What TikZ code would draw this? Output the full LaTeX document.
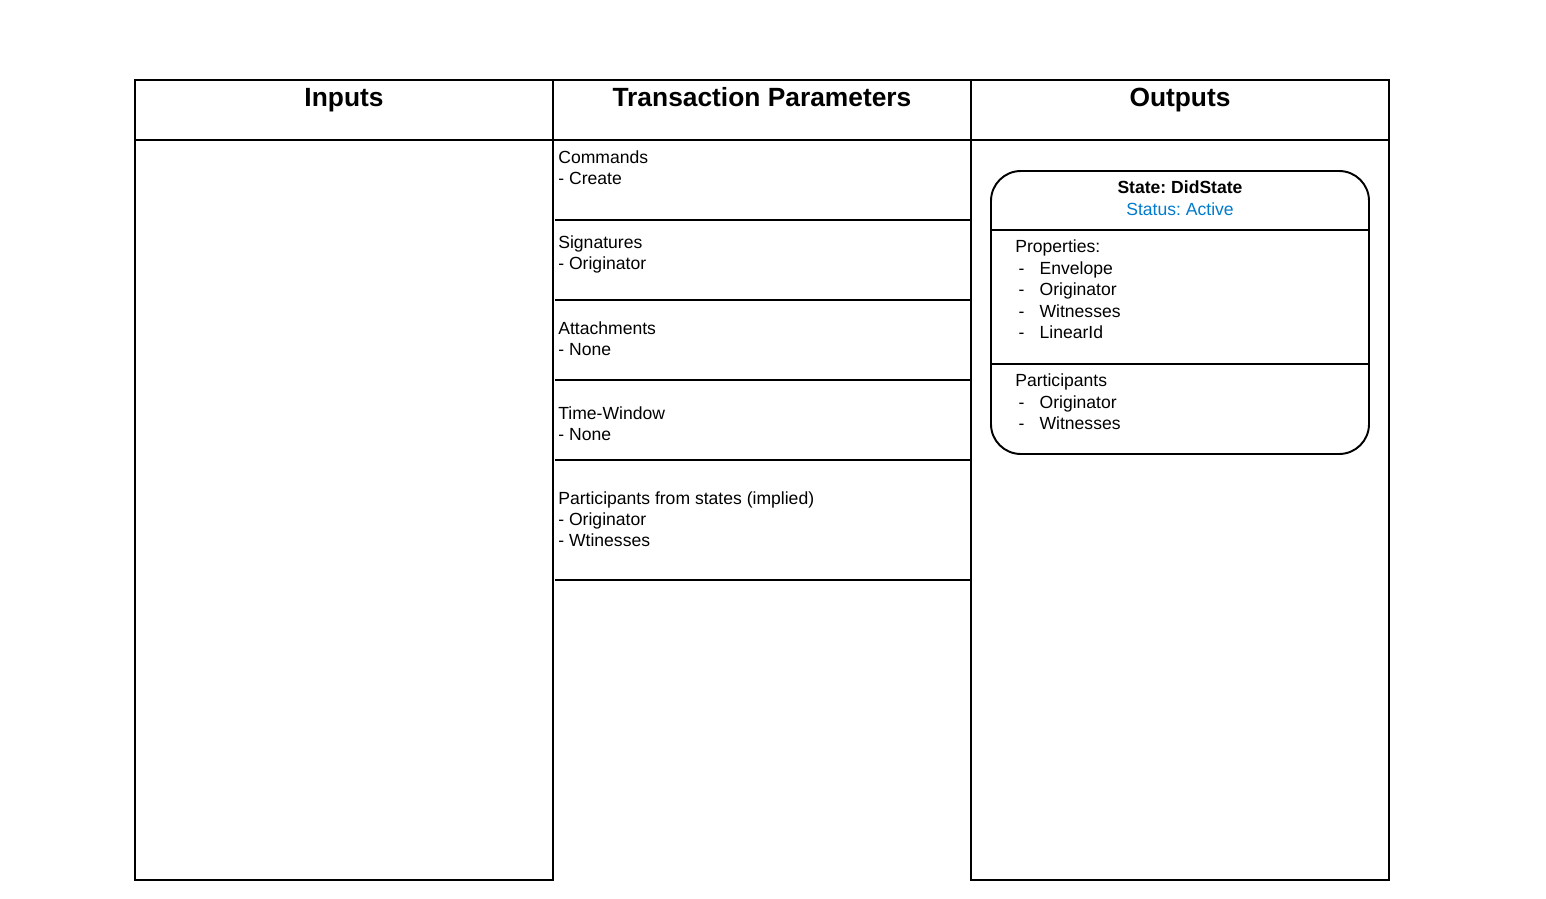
\documentclass[tikz,border=0pt]{standalone}
\usepackage{fontspec}
\setmainfont{Liberation Sans}
\frenchspacing
\definecolor{statusblue}{RGB}{0,122,204}
\tikzset{
  lane/.style={line width=1.1pt},
  lanehead/.style={anchor=base, inner sep=0pt, font=\fontsize{15}{18}\selectfont\bfseries},
  cell/.style={anchor=north west, align=left, inner sep=0pt, font=\fontsize{10}{11.9}\selectfont},
  proplist/.style={anchor=north west, align=left, inner sep=0pt, font=\fontsize{10}{12.2}\selectfont},
}
\newcommand{\dashitem}[1]{\hspace{1.9pt}\makebox[11.9pt][l]{-}#1}
\begin{document}
\begin{tikzpicture}[x=0.02cm,y=-0.02cm]
	\useasboundingbox (0,0) rectangle (1546,899);
	% swim lanes
	\draw[lane] (135,80) rectangle (553,880);
	\draw[lane] (971,80) rectangle (1389,880);
	\draw[lane] (553,80) -- (971,80);
	\draw[lane] (135,140) -- (1389,140);
	\node[lanehead] (inHead) at (344,106) {Inputs};
	\node[lanehead] (txHead) at (762,106) {Transaction Parameters};
	\node[lanehead] (outHead) at (1180,106) {Outputs};
	% transaction parameter rows
	\draw[lane] (555,220) -- (970,220);
	\draw[lane] (555,300) -- (970,300);
	\draw[lane] (555,380) -- (970,380);
	\draw[lane] (555,460) -- (970,460);
	\draw[lane] (555,580) -- (970,580);
	\node[cell] (cmdCell) at (558,150.7) {Commands\\- Create};
	\node[cell] (sigCell) at (558,235.7) {Signatures\\- Originator};
	\node[cell] (attCell) at (558,321.7) {Attachments\\- None};
	\node[cell] (twCell) at (558,406.7) {Time-Window\\- None};
	\node[cell] (partCell) at (558,491.7) {Participants from states (implied)\\- Originator\\- Wtinesses};
	% output state
	\draw[lane, rounded corners=17pt] (991,171) rectangle (1369,454);
	\draw[lane] (991,230) -- (1369,230);
	\draw[lane] (991,364) -- (1369,364);
	\node[anchor=base, inner sep=0pt, font=\fontsize{10}{12}\selectfont\bfseries] (stateTitle) at (1180,193.3) {State: DidState};
	\node[anchor=base, inner sep=0pt, font=\fontsize{10}{12}\selectfont, text=statusblue] (stateStatus) at (1180,215.3) {Status: Active};
	\node[proplist] (stateProps) at (1015,239.7) {Properties:\\\dashitem{Envelope}\\\dashitem{Originator}\\\dashitem{Witnesses}\\\dashitem{LinearId}};
	\node[proplist] (stateParts) at (1015,373.7) {Participants\\\dashitem{Originator}\\\dashitem{Witnesses}};
\end{tikzpicture}
\end{document}
